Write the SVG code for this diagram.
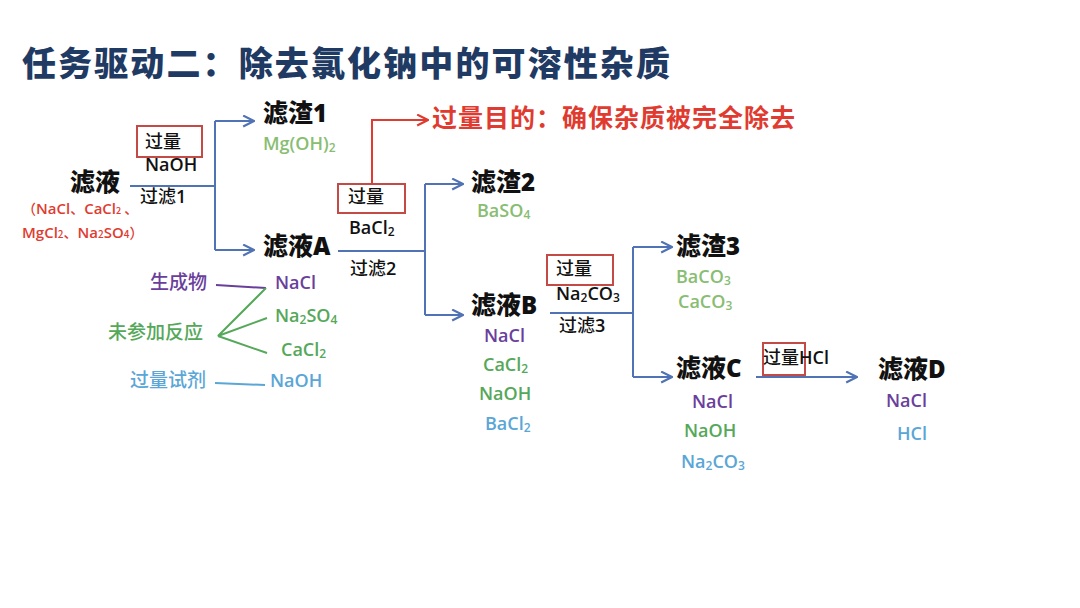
<svg xmlns="http://www.w3.org/2000/svg" width="1080" height="608" viewBox="0 0 1080 608">
<style>
.t{font-family:"Noto Sans CJK SC","Noto Sans",sans-serif;}
.title{font-size:34px;font-weight:900;fill:#1f3a63;}
.node{font-size:25px;font-weight:900;fill:#111;}
.nd{font-family:"Open Sans","Noto Sans",sans-serif;font-size:24px;font-weight:800;}
.lbl{font-size:18px;font-weight:500;fill:#111;}
.f{font-family:"Open Sans","Noto Sans",sans-serif;font-size:18px;font-weight:600;}
.cn{font-size:19px;font-weight:500;}
.pu{fill:#6a3f9c;}
.gl{fill:#88bd72;}
.gr{fill:#55a85a;}
.bl{fill:#5aa6d6;}
.rd{fill:#df3b30;}
.box{fill:none;stroke:#c44a45;stroke-width:2;}
.con{fill:none;stroke:#5073b5;stroke-width:2;}
.sub{font-size:12px;}
.comp{font-size:14px;font-weight:500;}
.cf{font-family:"Open Sans","Noto Sans",sans-serif;font-size:15px;font-weight:600;}
</style>
<defs>
<marker id="ah" viewBox="0 0 12 12" refX="11" refY="6" markerWidth="13" markerHeight="13" markerUnits="userSpaceOnUse" orient="auto">
<path d="M1,1 L11,6 L1,11" fill="none" stroke="#5073b5" stroke-width="2"/>
</marker>
<marker id="ahr" viewBox="0 0 12 12" refX="11" refY="6" markerWidth="13" markerHeight="13" markerUnits="userSpaceOnUse" orient="auto">
<path d="M1,1 L11,6 L1,11" fill="none" stroke="#df3b30" stroke-width="2"/>
</marker>
</defs>
<rect width="1080" height="608" fill="#ffffff"/>
<text class="t title" x="22" y="76" textLength="648" lengthAdjust="spacing">任务驱动二：除去氯化钠中的可溶性杂质</text>

<g id="connectors">
<path class="con" d="M130,186 H215 M215,121 V250"/>
<path class="con" d="M215,121 H254" marker-end="url(#ah)"/>
<path class="con" d="M215,250 H254" marker-end="url(#ah)"/>
<path class="con" d="M338,251 H425 M425,184 V315"/>
<path class="con" d="M425,184 H463" marker-end="url(#ah)"/>
<path class="con" d="M425,315 H463" marker-end="url(#ah)"/>
<path class="con" d="M550,313 H633 M633,247 V377"/>
<path class="con" d="M633,247 H672" marker-end="url(#ah)"/>
<path class="con" d="M633,377 H672" marker-end="url(#ah)"/>
<path class="con" d="M756,377 H857" marker-end="url(#ah)"/>
<path d="M372,184 V120 H428" fill="none" stroke="#df3b30" stroke-width="2" marker-end="url(#ahr)"/>
<path d="M216,285 L266,288" fill="none" stroke="#6a3f9c" stroke-width="2"/>
<path d="M266,288 L218,336 L267,318 M218,336 L267,353" fill="none" stroke="#55a85a" stroke-width="2"/>
<path d="M215,383 L265,385" fill="none" stroke="#5aa6d6" stroke-width="2"/>
</g>

<g id="filtrate0">
<text class="t node" x="70" y="191">滤液</text>
<text class="t rd comp" x="22" y="214">（<tspan class="cf">NaCl</tspan>、<tspan class="cf">CaCl</tspan><tspan style="font-size:9px">2</tspan> 、</text>
<text class="t rd comp" x="22" y="238"><tspan class="cf">MgCl</tspan><tspan style="font-size:10px">2</tspan>、<tspan class="cf">Na</tspan><tspan style="font-size:10px">2</tspan><tspan class="cf">SO</tspan><tspan style="font-size:10px">4</tspan>）</text>
</g>

<g id="step1">
<rect class="box" x="137" y="126" width="65" height="31"/>
<text class="t lbl" x="145" y="148">过量</text>
<text class="f" x="145" y="171" fill="#111">NaOH</text>
<text class="t lbl" x="140" y="203">过滤<tspan class="f">1</tspan></text>
</g>

<g id="residue1">
<text class="t node" x="263" y="122">滤渣<tspan class="nd">1</tspan></text>
<text class="f gl" x="263" y="150">Mg(OH)<tspan class="sub" dy="2">2</tspan></text>
</g>

<g id="filtrateA">
<text class="t node" x="263" y="255">滤液<tspan class="nd">A</tspan></text>
<text class="f pu" x="275" y="289">NaCl</text>
<text class="f gr" x="275" y="322">Na<tspan class="sub" dy="2">2</tspan><tspan dy="-2">SO</tspan><tspan class="sub" dy="2">4</tspan></text>
<text class="f gr" x="281" y="356">CaCl<tspan class="sub" dy="2">2</tspan></text>
<text class="f bl" x="270" y="387">NaOH</text>
<text class="t cn pu" x="150" y="289">生成物</text>
<text class="t cn gr" x="108" y="339">未参加反应</text>
<text class="t cn bl" x="130" y="387">过量试剂</text>
</g>

<g id="step2">
<rect class="box" x="338" y="184" width="67" height="29"/>
<text class="t lbl" x="348" y="203">过量</text>
<text class="f" x="349" y="234" fill="#111">BaCl<tspan class="sub" dy="2">2</tspan></text>
<text class="t lbl" x="350" y="275">过滤<tspan class="f">2</tspan></text>
</g>

<g id="purpose">
<text class="t rd" x="432" y="127" style="font-size:25px;font-weight:700;letter-spacing:1px">过量目的：确保杂质被完全除去</text>
</g>

<g id="residue2">
<text class="t node" x="471" y="191">滤渣<tspan class="nd">2</tspan></text>
<text class="f gl" x="477" y="217">BaSO<tspan class="sub" dy="2">4</tspan></text>
</g>

<g id="filtrateB">
<text class="t node" x="471" y="314">滤液<tspan class="nd">B</tspan></text>
<text class="f pu" x="484" y="342">NaCl</text>
<text class="f gr" x="483" y="371">CaCl<tspan class="sub" dy="2">2</tspan></text>
<text class="f gr" x="479" y="400">NaOH</text>
<text class="f bl" x="485" y="430">BaCl<tspan class="sub" dy="2">2</tspan></text>
</g>

<g id="step3">
<rect class="box" x="547" y="255" width="66" height="30"/>
<text class="t lbl" x="556" y="275">过量</text>
<text class="f" x="556" y="300" fill="#111">Na<tspan class="sub" dy="2">2</tspan><tspan dy="-2">CO</tspan><tspan class="sub" dy="2">3</tspan></text>
<text class="t lbl" x="559" y="332">过滤<tspan class="f">3</tspan></text>
</g>

<g id="residue3">
<text class="t node" x="676" y="255">滤渣<tspan class="nd">3</tspan></text>
<text class="f gl" x="676" y="283">BaCO<tspan class="sub" dy="2">3</tspan></text>
<text class="f gl" x="678" y="308">CaCO<tspan class="sub" dy="2">3</tspan></text>
</g>

<g id="filtrateC">
<text class="t node" x="676" y="377">滤液<tspan class="nd">C</tspan></text>
<text class="f pu" x="692" y="408">NaCl</text>
<text class="f gr" x="684" y="437">NaOH</text>
<text class="f bl" x="681" y="468">Na<tspan class="sub" dy="2">2</tspan><tspan dy="-2">CO</tspan><tspan class="sub" dy="2">3</tspan></text>
</g>

<g id="step4">
<rect class="box" x="763" y="343" width="42" height="32"/>
<text class="t lbl" x="763" y="364">过量<tspan class="f">HCl</tspan></text>
</g>

<g id="filtrateD">
<text class="t node" x="878" y="378">滤液<tspan class="nd">D</tspan></text>
<text class="f pu" x="886" y="407">NaCl</text>
<text class="f bl" x="897" y="440">HCl</text>
</g>
</svg>
